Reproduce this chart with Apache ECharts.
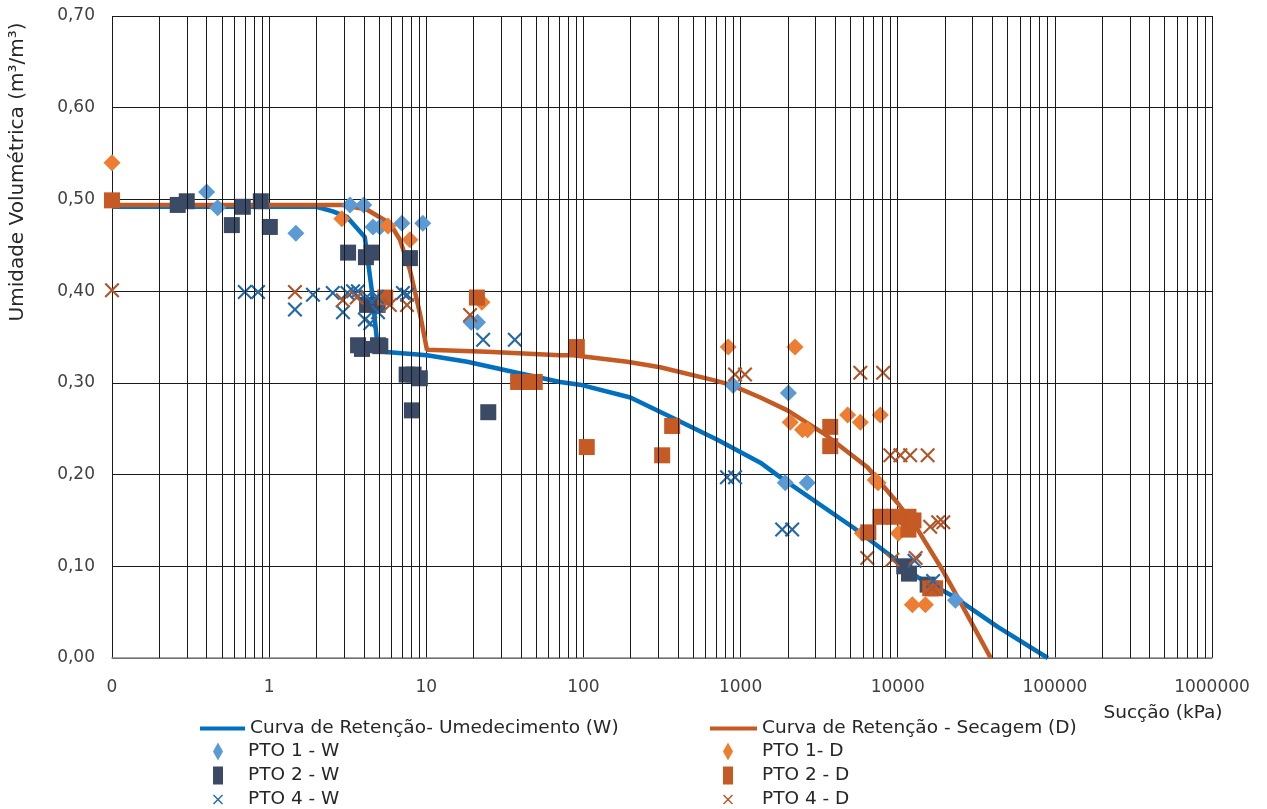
<!DOCTYPE html>
<html>
<head>
<meta charset="utf-8">
<script src="https://cdn.jsdelivr.net/npm/echarts@6/dist/echarts.min.js"></script>
<style>
  html, body { margin: 0; padding: 0; background: #fff; }
  #chart { width: 1267px; height: 809px; }
</style>
</head>
<body>
<div id="chart"></div>
<script>
// suction (kPa) and volumetric water content
var curveW = [
    [0.1, 0.492], [2.0, 0.492], [2.54, 0.487], [3.12, 0.481], [4.06, 0.459],
    [4.5, 0.401], [4.85, 0.347], [5.3, 0.334], [10.1, 0.330], [18.2, 0.323],
    [37.8, 0.311], [71, 0.301], [95, 0.298], [199, 0.284], [357, 0.263],
    [712, 0.238], [1337, 0.213], [1793, 0.197], [5240, 0.142], [9420, 0.109],
    [13400, 0.088], [22700, 0.067], [43300, 0.034], [90200, 0.0]
];
var curveD = [
    [0.1, 0.494], [2.94, 0.494], [4.18, 0.489], [5.86, 0.474], [6.8, 0.456],
    [7.87, 0.423], [9.1, 0.376], [10.1, 0.336], [24.4, 0.334], [71, 0.330],
    [86, 0.330], [190, 0.323], [308, 0.317], [671, 0.303], [861, 0.298],
    [1337, 0.284], [1986, 0.270], [3370, 0.245], [6420, 0.208], [9980, 0.169],
    [13400, 0.140], [18800, 0.099], [25200, 0.060], [30500, 0.034], [39100, 0.0]
];
var pto1W = [
    [0.4, 0.508], [0.47, 0.491], [1.48, 0.463], [3.27, 0.494], [4.0, 0.494],
    [4.58, 0.470], [5.07, 0.470], [7.0, 0.474], [9.5, 0.474], [19.3, 0.366],
    [21.2, 0.366], [897, 0.297], [2014, 0.289], [1924, 0.191], [2655, 0.191],
    [23300, 0.063]
];
var pto1D = [
    [0.1, 0.540], [2.9, 0.479], [5.7, 0.471], [7.87, 0.456], [22.6, 0.388],
    [834, 0.339], [2220, 0.339], [2070, 0.257], [2478, 0.249], [2670, 0.249],
    [4800, 0.265], [5780, 0.257], [7750, 0.265], [7190, 0.194], [7500, 0.191],
    [5960, 0.136], [10100, 0.136], [12400, 0.058], [15000, 0.058]
];
var pto2W = [
    [0.262, 0.494], [0.299, 0.498], [0.579, 0.472], [0.68, 0.492], [0.885, 0.498],
    [1.01, 0.470], [3.18, 0.442], [4.13, 0.437], [4.47, 0.442], [7.87, 0.436],
    [4.2, 0.385], [4.9, 0.385], [3.68, 0.341], [3.9, 0.337], [4.93, 0.341],
    [5.1, 0.340], [7.5, 0.309], [8.3, 0.309], [9.1, 0.305], [8.1, 0.270],
    [24.8, 0.268], [11000, 0.100], [11800, 0.092], [15500, 0.080]
];
var pto2D = [
    [0.1, 0.499], [5.48, 0.393], [21, 0.393], [38.4, 0.301], [43, 0.301],
    [49, 0.301], [90.8, 0.339], [105, 0.230], [317, 0.221], [367, 0.253],
    [3720, 0.252], [3720, 0.231], [6500, 0.137], [7750, 0.154], [9500, 0.154],
    [11700, 0.154], [11700, 0.140], [12600, 0.150], [16100, 0.076], [17300, 0.076]
];
var pto4W = [
    [0.70, 0.399], [0.85, 0.399], [1.46, 0.380], [1.90, 0.396], [2.54, 0.398],
    [2.95, 0.377], [3.15, 0.398], [3.42, 0.400], [3.67, 0.400], [4.07, 0.369],
    [4.4, 0.365], [4.93, 0.377], [4.2, 0.394], [4.85, 0.394], [7.1, 0.398],
    [7.55, 0.396], [23.0, 0.347], [36.6, 0.347], [820, 0.197], [922, 0.197],
    [1840, 0.140], [2130, 0.140], [12800, 0.106], [16800, 0.084]
];
var pto4D = [
    [0.1, 0.401], [1.46, 0.399], [2.94, 0.390], [3.61, 0.393], [5.86, 0.385],
    [7.54, 0.385], [19.0, 0.374], [922, 0.309], [1067, 0.309], [5780, 0.311],
    [8080, 0.311], [8980, 0.221], [10400, 0.221], [12000, 0.221], [15500, 0.221],
    [16100, 0.143], [18100, 0.148], [19500, 0.148], [6400, 0.109], [9250, 0.107],
    [13000, 0.109], [16600, 0.076]
];

var FONT = 'DejaVu Sans';
var xMark = 'path://M2,0L10,8L18,0L20,2L12,10L20,18L18,20L10,12L2,20L0,18L8,10L0,2Z';

// minor vertical grid lines at 2..9 of every decade
var minorLines = [];
for (var k = -1; k < 6; k++) {
    for (var m = 2; m <= 9; m++) {
        minorLines.push({ xAxis: m * Math.pow(10, k) });
    }
}

var dom = document.getElementById('chart');
var myChart = echarts.init(dom);

function scatter(name, data, symbol, size, color) {
    return {
        name: name,
        type: 'scatter',
        data: data,
        symbol: symbol,
        symbolSize: size,
        itemStyle: { color: color, opacity: 1 },
        z: 3
    };
}

var legendText = { fontSize: 18.5, fontFamily: FONT, color: '#262626', lineHeight: 18 };

var option = {
    animation: false,
    backgroundColor: '#fff',
    textStyle: { fontFamily: FONT },
    grid: { left: 112, top: 16, width: 1100, height: 642 },
    xAxis: {
        type: 'log',
        logBase: 10,
        min: 0.1,
        max: 1000000,
        splitNumber: 7,
        axisLine: { show: true, lineStyle: { color: '#8c8c8c', width: 1.5 } },
        axisTick: { show: false },
        axisLabel: {
            margin: 21,
            fontSize: 17,
            fontFamily: FONT,
            color: '#404040',
            formatter: function (v) {
                return v < 0.5 ? '0' : String(Math.round(v));
            }
        },
        splitLine: { show: true, lineStyle: { color: '#1a1a1a', width: 1 } }
    },
    yAxis: {
        type: 'value',
        min: 0,
        max: 0.7,
        interval: 0.1,
        axisLine: { show: false },
        axisTick: { show: false },
        axisLabel: {
            margin: 17,
            fontSize: 17,
            fontFamily: FONT,
            color: '#404040',
            formatter: function (v) {
                return v.toFixed(2).replace('.', ',');
            }
        },
        splitLine: { show: true, lineStyle: { color: '#1a1a1a', width: 1 } }
    },
    legend: [{
        left: 200, top: 719, height: 30, padding: 0, orient: 'vertical',
        itemWidth: 45, itemHeight: 4,
        textStyle: legendText,
        data: [{ name: 'Curva de Retenção- Umedecimento (W)', icon: 'rect' }]
    }, {
        left: 213, top: 742, height: 90, padding: 0, orient: 'vertical', itemGap: 5,
        itemWidth: 10, itemHeight: 18,
        textStyle: Object.assign({ padding: [0, 0, 0, 20] }, legendText),
        data: ['PTO 1 - W', 'PTO 2 - W', 'PTO 4 - W']
    }, {
        left: 710, top: 719, height: 30, padding: 0, orient: 'vertical',
        itemWidth: 47, itemHeight: 4,
        textStyle: legendText,
        data: [{ name: 'Curva de Retenção - Secagem (D)', icon: 'rect' }]
    }, {
        left: 723, top: 742, height: 90, padding: 0, orient: 'vertical', itemGap: 5,
        itemWidth: 10, itemHeight: 18,
        textStyle: Object.assign({ padding: [0, 0, 0, 24] }, legendText),
        data: ['PTO 1- D', 'PTO 2 - D', 'PTO 4 - D']
    }],
    graphic: [{
        type: 'text',
        x: 18, y: 172,
        rotation: Math.PI / 2,
        style: {
            text: 'Umidade Volumétrica (m³/m³)',
            font: '20px "DejaVu Sans"',
            fill: '#262626',
            align: 'center',
            verticalAlign: 'middle'
        }
    }, {
        type: 'text',
        x: 1163, y: 713,
        style: {
            text: 'Sucção (kPa)',
            font: '18.5px "DejaVu Sans"',
            fill: '#262626',
            align: 'center',
            verticalAlign: 'middle'
        }
    }],
    series: [{
        name: 'minor grid',
        type: 'line',
        data: [],
        silent: true,
        z: 1,
        markLine: {
            silent: true,
            symbol: 'none',
            label: { show: false },
            lineStyle: { color: '#1a1a1a', width: 1, type: 'solid' },
            data: minorLines
        }
    }, {
        name: 'Curva de Retenção- Umedecimento (W)',
        type: 'line',
        data: curveW,
        symbol: 'none',
        lineStyle: { color: '#0070C0', width: 4.5 },
        itemStyle: { color: '#0070C0' },
        z: 2
    }, {
        name: 'Curva de Retenção - Secagem (D)',
        type: 'line',
        data: curveD,
        symbol: 'none',
        lineStyle: { color: '#C55A22', width: 4.5 },
        itemStyle: { color: '#C55A22' },
        z: 2
    },
        scatter('PTO 1 - W', pto1W, 'diamond', 17, '#5B9BD5'),
        scatter('PTO 1- D', pto1D, 'diamond', 17, '#ED7D31'),
        scatter('PTO 2 - W', pto2W, 'rect', 16, '#3B4B66'),
        scatter('PTO 2 - D', pto2D, 'rect', 16, '#C55A24'),
        scatter('PTO 4 - W', pto4W, xMark, 15, '#2468A8'),
        scatter('PTO 4 - D', pto4D, xMark, 15, '#B0562A')
    ]
};

myChart.setOption(option);

window.onresize = function () {
    myChart.resize();
};
</script>
</body>
</html>
